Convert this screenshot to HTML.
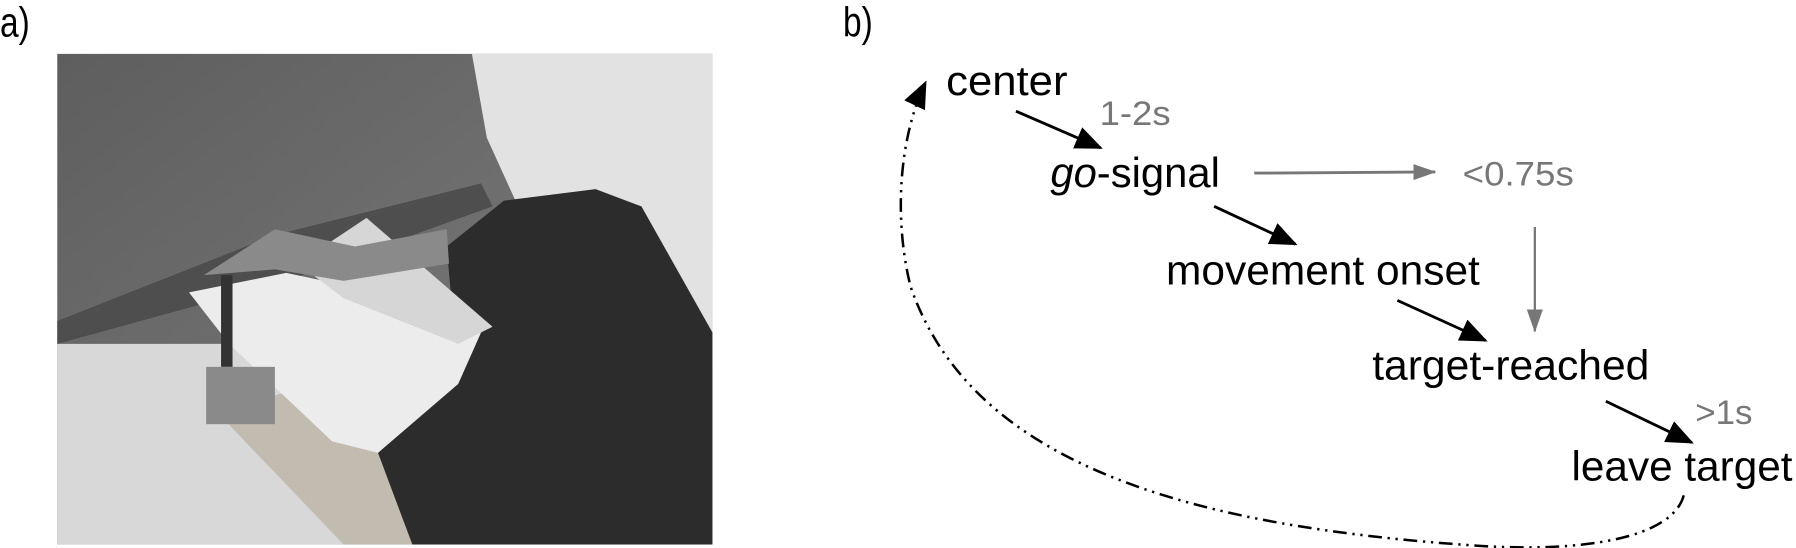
<!DOCTYPE html>
<html><head><meta charset="utf-8"><style>
html,body{margin:0;padding:0;background:#fff;}
svg{display:block;}
text{font-family:"Liberation Sans",Arial,sans-serif;}
</style></head><body>
<svg width="1796" height="548" viewBox="0 0 1568 478" preserveAspectRatio="none">
<defs>
<marker id="ahb" markerWidth="24" markerHeight="20" refX="22" refY="10" orient="auto" markerUnits="userSpaceOnUse" viewBox="0 0 24 20"><path d="M0,0 L24,10 L0,20 z" fill="#000"/></marker>
<marker id="ahg" markerWidth="20" markerHeight="14" refX="19" refY="7" orient="auto" markerUnits="userSpaceOnUse" viewBox="0 0 20 14"><path d="M0,0 L20,7 L0,14 z" fill="#777"/></marker>
<linearGradient id="wall" x1="0" y1="0" x2="1" y2="1"><stop offset="0" stop-color="#5e5e5e"/><stop offset="1" stop-color="#808080"/></linearGradient>
</defs>
<text x="0" y="32" font-size="36" textLength="26" lengthAdjust="spacingAndGlyphs">a)</text>
<text x="736" y="32" font-size="36" textLength="26" lengthAdjust="spacingAndGlyphs">b)</text>
<g>
<rect x="50" y="47" width="572" height="428" fill="url(#wall)"/>
<polygon points="50,280 240,205 420,160 430,180 250,245 50,300" fill="#4e4e4e"/>
<polygon points="50,300 50,475 420,475 300,360 200,300" fill="#d8d8d8"/>
<polygon points="190,360 290,330 420,475 300,475" fill="#c2bbb0"/>
<polygon points="412,47 622,47 622,320 590,300 560,250 520,200 450,175 425,120" fill="#e2e2e2"/>
<polygon points="390,215 440,175 520,165 560,180 622,290 622,475 360,475 330,395 400,330" fill="#2c2c2c"/>
<polygon points="165,255 250,238 330,255 420,290 400,335 330,395 290,385 200,300" fill="#ececec"/>
<polygon points="260,230 320,190 430,285 400,300 300,260" fill="#d6d6d6"/>
<polygon points="178,240 240,200 310,215 390,200 392,230 300,245 240,235" fill="#8a8a8a"/>
<rect x="193" y="240" width="10" height="80" fill="#333"/>
<rect x="180" y="320" width="60" height="50" fill="#8a8a8a"/>
</g>
<g>
<text x="826" y="83" font-size="36" textLength="106" lengthAdjust="spacingAndGlyphs">center</text>
<text x="960" y="109" font-size="30" fill="#777" textLength="62" lengthAdjust="spacingAndGlyphs">1-2s</text>
<text x="917" y="163" font-size="36" textLength="148" lengthAdjust="spacingAndGlyphs"><tspan font-style="italic">go</tspan>-signal</text>
<text x="1277" y="162" font-size="30" fill="#777" textLength="97" lengthAdjust="spacingAndGlyphs">&lt;0.75s</text>
<text x="1018" y="248" font-size="36" textLength="274" lengthAdjust="spacingAndGlyphs">movement onset</text>
<text x="1198" y="331" font-size="36" textLength="242" lengthAdjust="spacingAndGlyphs">target-reached</text>
<text x="1480" y="370" font-size="30" fill="#777" textLength="50" lengthAdjust="spacingAndGlyphs">&gt;1s</text>
<text x="1372" y="419" font-size="36" textLength="193" lengthAdjust="spacingAndGlyphs">leave target</text>
<line x1="887" y1="97" x2="961" y2="129" stroke="#000" stroke-width="2.5" marker-end="url(#ahb)"/>
<line x1="1060" y1="180" x2="1131" y2="213" stroke="#000" stroke-width="2.5" marker-end="url(#ahb)"/>
<line x1="1220" y1="262" x2="1297" y2="297" stroke="#000" stroke-width="2.5" marker-end="url(#ahb)"/>
<line x1="1402" y1="350" x2="1477" y2="386" stroke="#000" stroke-width="2.5" marker-end="url(#ahb)"/>
<line x1="1095" y1="151" x2="1253" y2="150" stroke="#777" stroke-width="2.5" marker-end="url(#ahg)"/>
<line x1="1340" y1="198" x2="1340" y2="289" stroke="#777" stroke-width="2" marker-end="url(#ahg)"/>
<path d="M1470,432 C1460,470 1380,482 1290,476 C1050,460 850,410 795,250 C780,190 785,120 808,72" fill="none" stroke="#000" stroke-width="2.2" stroke-dasharray="12,5,2,5,2,5" marker-end="url(#ahb)"/>
</g>
</svg>
</body></html>
